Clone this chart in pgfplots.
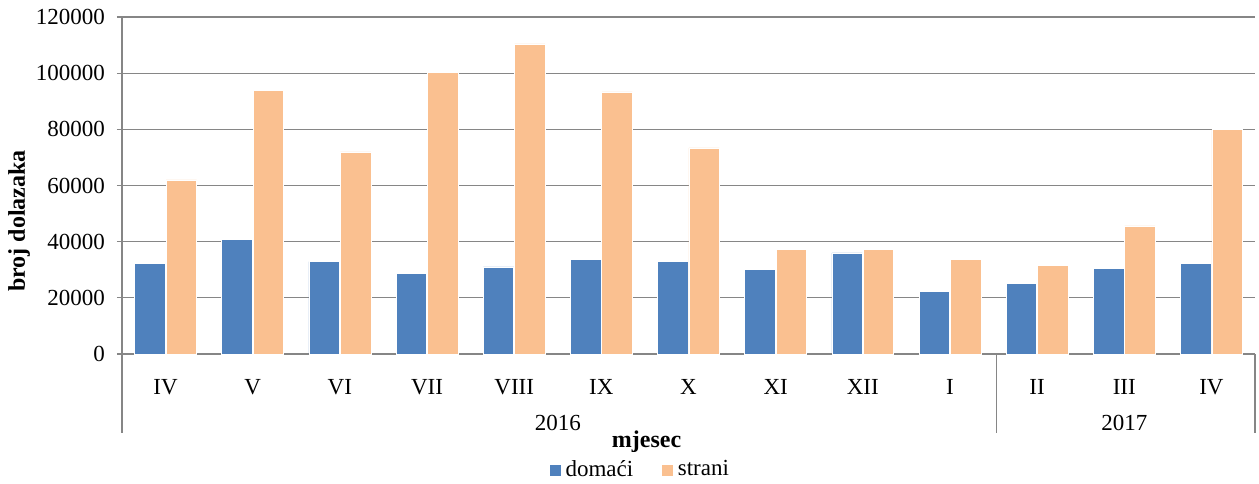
\documentclass[border=0pt]{standalone}
\usepackage{pgfplots}
\pgfplotsset{compat=1.18}
\usepackage{fontspec}
\setmainfont{Liberation Serif}

\definecolor{domblue}{HTML}{4F81BD}
\definecolor{strorange}{HTML}{FAC090}
\definecolor{axgray}{HTML}{868686}

% dolasci po mjesecima, x = 0..12 (IV/2016 .. IV/2017)
\pgfplotstableread{
x  domaci  strani
0  32300   62000
1  40800   94000
2  32900   72000
3  28700   100400
4  31000   110400
5  33700   93300
6  33100   73400
7  30200   37300
8  36000   37300
9  22200   33600
10 25000   31600
11 30400   45600
12 32300   80000
}\podaci

\begin{document}
\fontsize{11.5}{13}\selectfont
\begin{tikzpicture}
\useasboundingbox (-61pt,-64.5pt) rectangle (568.5pt,177pt);
\begin{axis}[
    scale only axis,
    width=566.5pt, height=168.5pt,
    at={(0,0)}, anchor=south west,
    ybar, bar width=0.35,
    xmin=-0.5, xmax=12.5,
    ymin=0, ymax=120000,
    ytick={0,20000,40000,60000,80000,100000,120000},
    yticklabels={0,20000,40000,60000,80000,100000,120000},
    scaled y ticks=false,
    xtick={0,...,12},
    xticklabels={IV,V,VI,VII,VIII,IX,X,XI,XII,I,II,III,IV},
    x tick style={draw=none},
    y tick style={axgray, line width=0.6pt},
    tick align=outside, major tick length=2.5pt,
    xticklabel style={yshift=-6pt},
    yticklabel style={xshift=-2pt},
    ymajorgrids, grid style={axgray, line width=0.6pt},
    axis x line*=bottom, axis y line*=left,
    axis line style={axgray, line width=0.6pt, -},
    clip=false,
    legend style={draw=none, legend columns=2, at={(0.458,-0.344)}, anchor=center,
        /tikz/every even column/.append style={column sep=12pt},
        font=\fontsize{11.5}{13}\selectfont},
    legend image code/.code={\fill[#1] (0pt,-3pt) rectangle (6pt,3pt);},
]
\addplot[fill=domblue, draw=white, line width=0.3pt, bar shift=-0.18] table[x=x, y=domaci] {\podaci};
\addlegendentry{domaći}
\addplot[fill=strorange, draw=white, line width=0.3pt, bar shift=0.18] table[x=x, y=strani] {\podaci};
\addlegendentry{strani}

\draw[axgray, line width=0.6pt] (axis cs:-0.5,0) -- ([yshift=-39.5pt]axis cs:-0.5,0);
\draw[axgray, line width=0.6pt] (axis cs:9.53,0) -- ([yshift=-39.5pt]axis cs:9.53,0);
\draw[axgray, line width=0.6pt] (axis cs:12.5,0) -- ([yshift=-39.5pt]axis cs:12.5,0);
\node at ([yshift=-34.5pt]axis cs:4.5,0) {2016};
\node at ([yshift=-34.5pt]axis cs:11,0) {2017};
\node[font=\fontsize{12}{14}\selectfont\bfseries] at (rel axis cs:0.463,-0.26) {mjesec};
\end{axis}
\node[rotate=90, font=\fontsize{12}{14}\selectfont\bfseries] at (-51.5pt,66.5pt) {broj dolazaka};
\end{tikzpicture}
\end{document}
